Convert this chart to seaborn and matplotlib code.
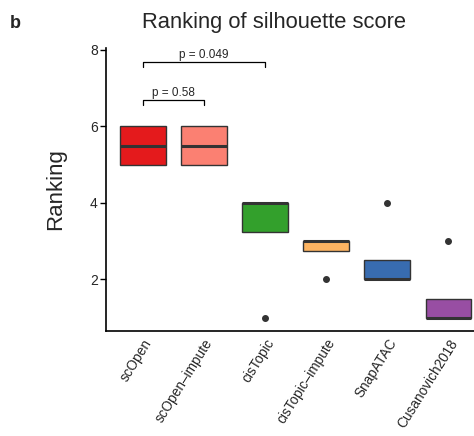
import matplotlib
matplotlib.use("Agg")
import matplotlib.pyplot as plt
import seaborn as sns
import pandas as pd

# Per-dataset ranks of each method (silhouette score)
methods = ["scOpen", "scOpen\u2013impute", "cisTopic", "cisTopic\u2013impute", "SnapATAC", "Cusanovich2018"]
rank_scopen = [5, 5, 6, 6]
rank_scopen_impute = [6, 6, 5, 5]
rank_cistopic = [1, 4, 4, 4]
rank_cistopic_impute = [3, 3, 3, 2]
rank_snapatac = [2, 2, 2, 4]
rank_cusanovich = [3, 1, 1, 1]
colors = ["#E41A1C", "#FB8072", "#33A02C", "#FDB462", "#386CB0", "#984EA3"]

# p-value annotations: (left index, right index, label, y)
comparisons = [(0, 1, "p = 0.58", 6.70), (0, 2, "p = 0.049", 7.69)]

ranks = [rank_scopen, rank_scopen_impute, rank_cistopic,
         rank_cistopic_impute, rank_snapatac, rank_cusanovich]
df = pd.DataFrame({
    "method": [m for m, r in zip(methods, ranks) for _ in r],
    "rank": [v for r in ranks for v in r],
})

sns.set_style("white")
plt.rcParams["font.family"] = ["Liberation Sans", "DejaVu Sans"]

fig = plt.figure(figsize=(4.74, 4.36), dpi=100)
ax = fig.add_axes([0.2236, 0.2408, 0.80, 0.649])

sns.boxplot(
    data=df, x="method", y="rank", hue="method", order=methods,
    hue_order=methods, palette=colors, width=0.75, legend=False,
    linewidth=1.0, linecolor="#333333", showcaps=False, saturation=1,
    medianprops=dict(color="#333333", linewidth=2.2),
    flierprops=dict(marker="o", markersize=4, markerfacecolor="#333333",
                    markeredgecolor="#333333"),
    ax=ax,
)

ax.set_xlim(-0.6, 5.6)
ax.set_ylim(0.65, 8.05)
ax.set_yticks([2, 4, 6, 8])
ax.tick_params(axis="y", length=4, width=1, color="black", labelsize=10,
               left=True, pad=2)
ax.tick_params(axis="x", length=0, labelsize=9.8, pad=4)
ax.set_xticks(range(len(methods)))
ax.set_xticklabels(methods, rotation=58, ha="right", rotation_mode="anchor")
for sp in ["top", "right"]:
    ax.spines[sp].set_visible(False)
for sp in ["left", "bottom"]:
    ax.spines[sp].set_color("black")
    ax.spines[sp].set_linewidth(1.2)

ax.set_xlabel("")
ax.set_ylabel("Ranking", fontsize=16, labelpad=17)

for i, j, label, y in comparisons:
    ax.plot([i, i, j, j], [y - 0.13, y, y, y - 0.13], color="black", lw=0.9)
    ax.text((i + j) / 2, y + 0.03, label, ha="center", va="bottom", fontsize=8.5)

fig.text(0.579, 0.936, "Ranking of silhouette score", fontsize=15.8,
         ha="center", va="baseline")
fig.text(0.02, 0.965, "b", fontsize=13, fontweight="bold", va="top")

fig.savefig("out.png", dpi=100)
